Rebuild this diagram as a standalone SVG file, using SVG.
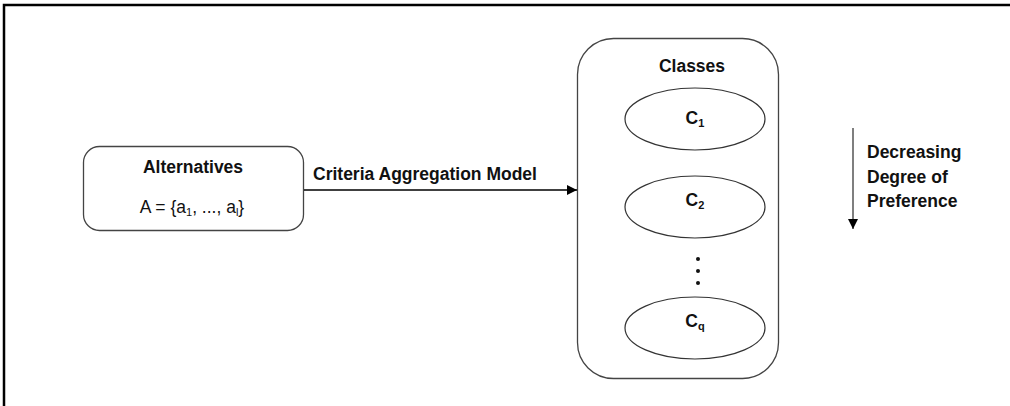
<svg xmlns="http://www.w3.org/2000/svg" width="1010" height="406" viewBox="0 0 1010 406">
<style>
.t{font-family:"Liberation Sans",Arial,sans-serif;font-size:17.5px;fill:#111;}
.b{font-weight:bold;}
.box{fill:#fff;stroke:#444;stroke-width:1.3;}
.ell{fill:#fff;stroke:#333;stroke-width:1.2;}
.conn{stroke:#000;stroke-width:1.3;fill:none;}
</style>
<defs>
<marker id="ah" viewBox="0 0 10 10" refX="10" refY="5" markerWidth="10" markerHeight="10" markerUnits="userSpaceOnUse" orient="auto">
<path d="M0,0 L10,5 L0,10 z" fill="#000"/>
</marker>
</defs>
<rect width="1010" height="406" fill="#fff"/>
<path d="M4,406 L4,5 L1010,5" fill="none" stroke="#000" stroke-width="2.5"/>
<g id="alternatives">
<rect class="box" x="83.5" y="146.5" width="220" height="84" rx="16"/>
<text class="t b" x="193" y="173" text-anchor="middle">Alternatives</text>
<text class="t" x="192" y="213" text-anchor="middle">A = {a<tspan font-size="11" dy="3">1</tspan><tspan dy="-3">, ..., a</tspan><tspan font-size="11" dy="3">l</tspan><tspan dy="-3">}</tspan></text>
</g>
<g id="classes">
<rect class="box" x="577.5" y="38.5" width="201" height="340" rx="36"/>
<text class="t b" x="692" y="72" text-anchor="middle">Classes</text>
</g>
<g id="c1">
<ellipse class="ell" cx="695" cy="119" rx="70" ry="31"/>
<text class="t b" x="695" y="124" text-anchor="middle">C<tspan font-size="11" dy="3">1</tspan></text>
</g>
<g id="c2">
<ellipse class="ell" cx="695" cy="207" rx="70" ry="31"/>
<text class="t b" x="695" y="206" text-anchor="middle">C<tspan font-size="11" dy="3">2</tspan></text>
</g>
<g id="dots">
<circle cx="698" cy="259" r="2" fill="#111"/>
<circle cx="698" cy="271" r="2" fill="#111"/>
<circle cx="698" cy="283" r="2" fill="#111"/>
</g>
<g id="cq">
<ellipse class="ell" cx="695" cy="328" rx="70" ry="31"/>
<text class="t b" x="695" y="327" text-anchor="middle">C<tspan font-size="11" dy="3">q</tspan></text>
</g>
<g id="connectors">
<line class="conn" x1="304" y1="190" x2="577" y2="190" marker-end="url(#ah)"/>
<text class="t b" x="313" y="180">Criteria Aggregation Model</text>
<line x1="853" y1="128" x2="853" y2="229" stroke="#555" stroke-width="1.5" marker-end="url(#ah)"/>
</g>
<g id="legend">
<text class="t b" x="867" y="158">Decreasing</text>
<text class="t b" x="867" y="183">Degree of</text>
<text class="t b" x="867" y="207">Preference</text>
</g>
</svg>
